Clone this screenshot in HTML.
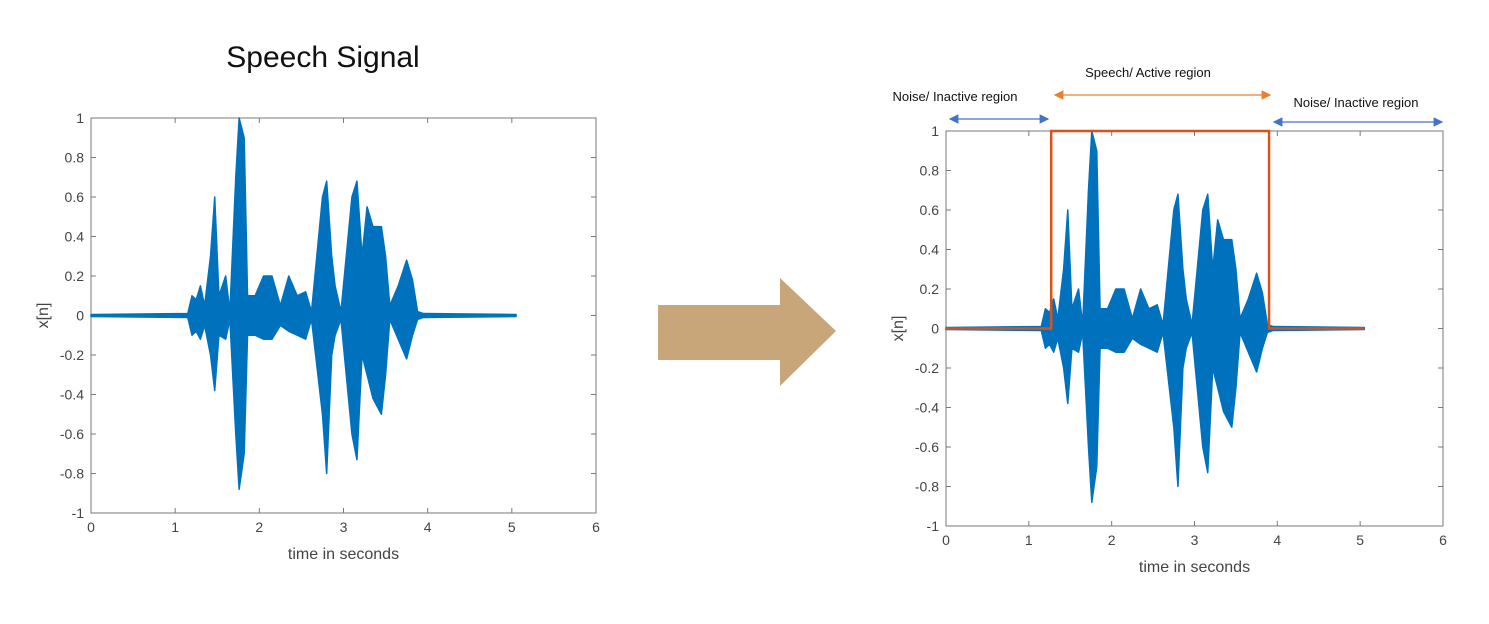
<!DOCTYPE html>
<html><head><meta charset="utf-8"><style>
body{margin:0;background:#fff;width:1489px;height:619px;overflow:hidden;font-family:"Liberation Sans",sans-serif}
svg text{font-family:"Liberation Sans",sans-serif}
</style></head><body>
<svg id="root" width="1489" height="619" xmlns="http://www.w3.org/2000/svg">
<text x="323" y="67" font-size="30" text-anchor="middle" fill="#111">Speech Signal</text>
<polygon points="658,305 780,305 780,278 836,331 780,386 780,360 658,360" fill="#c8a67a"/>
<g id="left"></g>
<g id="right"></g>
<g>
<defs>
<marker id="ab" markerWidth="8" markerHeight="8" refX="7" refY="4" orient="auto-start-reverse"><path d="M0,0 L8,4 L0,8 z" fill="#4472c4"/></marker>
<marker id="ao" markerWidth="8" markerHeight="8" refX="7" refY="4" orient="auto-start-reverse"><path d="M0,0 L8,4 L0,8 z" fill="#ed7d31"/></marker>
</defs>
<text x="955" y="101" font-size="13" fill="#111" text-anchor="middle">Noise/ Inactive region</text>
<line x1="950" y1="119" x2="1048" y2="119" stroke="#4472c4" stroke-width="1.2" marker-start="url(#ab)" marker-end="url(#ab)"/>
<text x="1148" y="77" font-size="13" fill="#111" text-anchor="middle">Speech/ Active region</text>
<line x1="1055" y1="95" x2="1270" y2="95" stroke="#ed7d31" stroke-width="1.2" marker-start="url(#ao)" marker-end="url(#ao)"/>
<text x="1356" y="107" font-size="13" fill="#111" text-anchor="middle">Noise/ Inactive region</text>
<line x1="1274" y1="122" x2="1442" y2="122" stroke="#4472c4" stroke-width="1.2" marker-start="url(#ab)" marker-end="url(#ab)"/>
</g>
</svg>
<script>
const xTicks=[0,1,2,3,4,5,6];
const yTicks=[-1,-0.8,-0.6,-0.4,-0.2,0,0.2,0.4,0.6,0.8,1];
const envTime=[0,1.15,1.2,1.25,1.3,1.35,1.42,1.47,1.52,1.6,1.65,1.72,1.76,1.82,1.86,1.95,2.05,2.15,2.25,2.35,2.45,2.55,2.62,2.75,2.8,2.86,2.9,2.97,3.1,3.16,3.22,3.28,3.35,3.45,3.5,3.55,3.65,3.75,3.82,3.88,3.95,5.05];
const envUpper=[0.005,0.01,0.1,0.08,0.15,0.05,0.3,0.6,0.1,0.2,0.02,0.7,1.0,0.9,0.1,0.1,0.2,0.2,0.05,0.2,0.1,0.12,0.02,0.6,0.68,0.3,0.15,0.02,0.6,0.68,0.3,0.55,0.45,0.45,0.3,0.05,0.15,0.28,0.18,0.02,0.01,0.005];
const envLower=[-0.005,-0.01,-0.1,-0.08,-0.12,-0.05,-0.2,-0.38,-0.1,-0.12,-0.02,-0.6,-0.88,-0.7,-0.1,-0.1,-0.12,-0.12,-0.05,-0.08,-0.1,-0.12,-0.02,-0.5,-0.8,-0.2,-0.1,-0.02,-0.6,-0.73,-0.2,-0.3,-0.42,-0.5,-0.3,-0.02,-0.12,-0.22,-0.1,-0.02,-0.01,-0.005];
const vadTime=[0,1.27,1.27,3.9,3.9,5.05];
const vadValue=[0,0,1,1,0,0];
const NS='http://www.w3.org/2000/svg';
function mk(tag,attrs,parent){const e=document.createElementNS(NS,tag);for(const k in attrs)e.setAttribute(k,attrs[k]);parent.appendChild(e);return e;}
function chart(g,x0,x1,y0,y1,vad){
  const sx=v=>x0+(v-0)/(6-0)*(x1-x0);
  const sy=v=>y1-(v+1)/2*(y1-y0);
  const box=mk('rect',{x:x0,y:y0,width:x1-x0,height:y1-y0,fill:'#fff',stroke:'#7a7a7a','stroke-width':1},g);
  
  
  xTicks.forEach(t=>{
    mk('line',{x1:sx(t),x2:sx(t),y1:y1,y2:y1-5,stroke:'#7a7a7a'},g);
    mk('line',{x1:sx(t),x2:sx(t),y1:y0,y2:y0+5,stroke:'#7a7a7a'},g);
    const tx=mk('text',{x:sx(t),y:y1+19,'font-size':14,'text-anchor':'middle',fill:'#444'},g);
    tx.textContent=t;
    
    
  });
  yTicks.forEach(t=>{
    mk('line',{x1:x0,x2:x0+5,y1:sy(t),y2:sy(t),stroke:'#7a7a7a'},g);
    mk('line',{x1:x1,x2:x1-5,y1:sy(t),y2:sy(t),stroke:'#7a7a7a'},g);
    const tx=mk('text',{x:x0-7,y:sy(t)+5,'font-size':14,'text-anchor':'end',fill:'#444'},g);
    tx.textContent=String(t);
    
    
  });
  const xl=mk('text',{x:(x0+x1)/2,y:y1+46,'font-size':16,'text-anchor':'middle',fill:'#444'},g);
  xl.textContent='time in seconds';
  
  
  const yl=mk('text',{x:0,y:0,'font-size':16,'text-anchor':'middle',fill:'#444',transform:`translate(${x0-43},${(y0+y1)/2}) rotate(-90)`},g);
  yl.textContent='x[n]';
  
  
  let pts=envTime.map((t,i)=>sx(t)+','+sy(envUpper[i]));
  for(let i=envTime.length-1;i>=0;i--)pts.push(sx(envTime[i])+','+sy(envLower[i]));
  const w=mk('polygon',{points:pts.join(' '),fill:'#0072bd',stroke:'#0072bd','stroke-width':1.5,'stroke-linejoin':'round'},g);
  
  
  if(vad){
    const p=mk('polyline',{points:vadTime.map((t,i)=>sx(t)+','+sy(vadValue[i])).join(' '),fill:'none',stroke:'#d95319','stroke-width':2.5},g);
    
    
  }
}
chart(document.getElementById('left'),91,596,118,513,false);
chart(document.getElementById('right'),946,1443,131,526,true);
</script>
</body></html>
